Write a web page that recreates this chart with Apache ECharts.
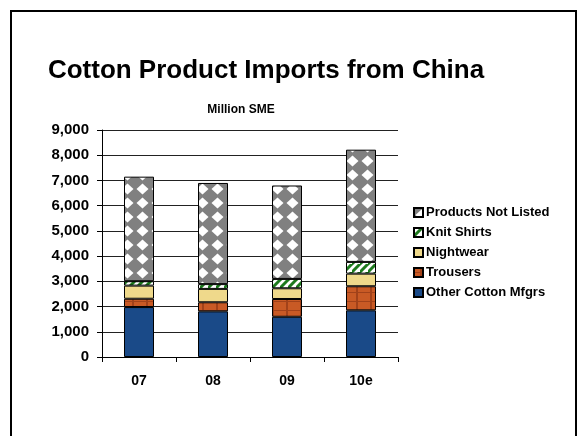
<!DOCTYPE html>
<html>
<head>
<meta charset="utf-8">
<script src="https://cdn.jsdelivr.net/npm/echarts@6/dist/echarts.min.js"></script>
<style>
html,body{margin:0;padding:0;background:#fff;}
#c{width:587px;height:436px;}
</style>
</head>
<body>
<div id="c"></div>
<script>
const categories = ['07', '08', '09', '10e'];
const otherCotton = [1980, 1810, 1595, 1850];
const trousers = [330, 360, 705, 955];
const nightwear = [520, 530, 425, 500];
const knitShirts = [175, 190, 370, 465];
const notListed = [4145, 4010, 3705, 4450];
const yTicks = [0, 1000, 2000, 3000, 4000, 5000, 6000, 7000, 8000, 9000];

const FONT = '"Liberation Sans", Arial, sans-serif';

function makeTile(w, h, draw) {
  const c = document.createElement('canvas');
  c.width = w; c.height = h;
  draw(c.getContext('2d'), w, h);
  return c;
}
const diamondTile = makeTile(15, 14, (g, w, h) => {
  g.fillStyle = '#808080'; g.fillRect(0, 0, w, h);
  g.fillStyle = '#ffffff';
  g.beginPath();
  g.moveTo(7.5, 1.5); g.lineTo(13.5, 7); g.lineTo(7.5, 12.5); g.lineTo(1.5, 7); g.closePath();
  g.fill();
});
const stripeTile = makeTile(8, 8, (g, w, h) => {
  g.fillStyle = '#ffffff'; g.fillRect(0, 0, w, h);
  g.strokeStyle = '#1d7a1d'; g.lineWidth = 3;
  g.beginPath();
  g.moveTo(-2, 10); g.lineTo(10, -2);
  g.moveTo(-6, 6); g.lineTo(2, -2);
  g.moveTo(6, 14); g.lineTo(14, 6);
  g.stroke();
});
const plaidTile = makeTile(14, 9, (g, w, h) => {
  g.fillStyle = '#c95a25'; g.fillRect(0, 0, w, h);
  g.fillStyle = '#a2421a';
  g.fillRect(6, 0, 2, h);
  g.fillRect(0, 4, w, 1);
});

function ser(name, data, color) {
  return {
    type: 'bar', stack: 'total', barWidth: 30,
    name: name, data: data,
    itemStyle: { borderColor: '#000', borderWidth: 1, color: color }
  };
}

const chart = echarts.init(document.getElementById('c'), null, { renderer: 'canvas' });
chart.setOption({
  animation: false,
  backgroundColor: '#fff',
  textStyle: { fontFamily: FONT },
  title: [
    { text: 'Cotton Product Imports from China', left: 261, top: 53, textAlign: 'center',
      textStyle: { fontFamily: FONT, fontSize: 26, fontWeight: 'bold', color: '#000' } },
    { text: 'Million SME', left: 236, top: 99, textAlign: 'center',
      textStyle: { fontFamily: FONT, fontSize: 12, fontWeight: 'bold', color: '#000' } }
  ],
  graphic: [
    { type: 'rect', shape: { x: 11, y: 11, width: 565, height: 440 },
      style: { fill: 'none', stroke: '#000', lineWidth: 2 }, silent: true }
  ],
  legend: {
    orient: 'vertical', left: 408, top: 201, itemWidth: 9, itemHeight: 9, itemGap: 7,
    icon: 'rect',
    data: ['Products Not Listed', 'Knit Shirts', 'Nightwear', 'Trousers', 'Other Cotton Mfgrs'],
    textStyle: { fontFamily: FONT, fontSize: 13, fontWeight: 'bold', color: '#000', padding: [0,0,0,-2] }
  },
  grid: { left: 102, right: 189, top: 130, bottom: 79 },
  xAxis: {
    type: 'category', data: categories,
    axisLine: { lineStyle: { color: '#000', width: 1 } },
    axisTick: { show: true, length: 5, lineStyle: { color: '#000' } },
    axisLabel: { margin: 17, fontFamily: FONT, fontSize: 14, fontWeight: 'bold', color: '#000' }
  },
  yAxis: {
    type: 'value', min: 0, max: 9000, interval: 1000,
    axisLine: { show: true, lineStyle: { color: '#000', width: 1 } },
    axisTick: { show: true, length: 5, lineStyle: { color: '#000' } },
    splitLine: { lineStyle: { color: '#222', width: 1 } },
    axisLabel: {
      margin: 13, fontFamily: FONT, fontSize: 15, fontWeight: 'bold', color: '#000',
      formatter: v => yTicks.indexOf(v) >= 0 ? v.toLocaleString('en-US') : ''
    }
  },
  series: [
    ser('Other Cotton Mfgrs', otherCotton, '#1a4a88'),
    ser('Trousers', trousers, { image: plaidTile, repeat: 'repeat' }),
    ser('Nightwear', nightwear, '#efd98b'),
    ser('Knit Shirts', knitShirts, { image: stripeTile, repeat: 'repeat' }),
    ser('Products Not Listed', notListed, { image: diamondTile, repeat: 'repeat' })
  ]
});
</script>
</body>
</html>
